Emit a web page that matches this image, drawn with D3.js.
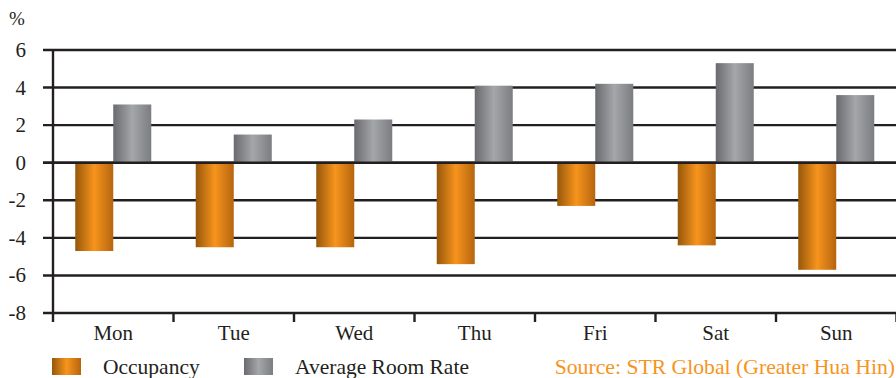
<!DOCTYPE html>
<html>
<head>
<meta charset="utf-8">
<script src="https://cdn.jsdelivr.net/npm/d3@7"></script>
<style>
  html, body { margin: 0; padding: 0; background: #fff; }
  svg { display: block; }
</style>
</head>
<body>
<svg id="chart" width="896" height="378"></svg>
<script>
// Year-on-year change by day of week, in percent
const days = ["Mon", "Tue", "Wed", "Thu", "Fri", "Sat", "Sun"];
const occupancy = [-4.7, -4.5, -4.5, -5.4, -2.3, -4.4, -5.7];
const roomRate = [3.1, 1.5, 2.3, 4.1, 4.2, 5.3, 3.6];
const yTicks = [6, 4, 2, 0, -2, -4, -6, -8];
const seriesNames = ["Occupancy", "Average Room Rate"];
const sourceNote = "Source: STR Global (Greater Hua Hin)";

const svg = d3.select("#chart");
const W = 896;
const ink = "#231f20";
const font = "'Liberation Serif', 'Times New Roman', serif";

const x = d3.scaleBand().domain(days).range([53, 896.5]).padding(0);
const xs = d3.scaleBand().domain(seriesNames).range([0, x.bandwidth()]).paddingInner(0).paddingOuter(0.585);
const y = d3.scaleLinear().domain([-8, 6]).range([313, 50]);

// Horizontal gradients for the bars
const defs = svg.append("defs");
function grad(id, stops) {
  const g = defs.append("linearGradient").attr("id", id)
    .attr("x1", "0%").attr("x2", "100%").attr("y1", "0%").attr("y2", "0%");
  stops.forEach(([o, c]) => g.append("stop").attr("offset", o).attr("stop-color", c));
}
grad("gOcc", [["0%", "#96570b"], ["50%", "#f7941d"], ["100%", "#b5650f"]]);
grad("gRate", [["0%", "#6a6b6e"], ["50%", "#a4a6a9"], ["100%", "#7b7d80"]]);
const fills = { "Occupancy": "url(#gOcc)", "Average Room Rate": "url(#gRate)" };

// Gridlines with left tick stubs
svg.append("g").selectAll("line").data(yTicks).join("line")
  .attr("x1", 43).attr("x2", W)
  .attr("y1", d => y(d)).attr("y2", d => y(d))
  .attr("stroke", ink).attr("stroke-width", 2.4);

// Y tick labels
svg.append("g").selectAll("text").data(yTicks).join("text")
  .attr("x", 26).attr("y", d => y(d) + 7)
  .attr("text-anchor", "end")
  .style("font-family", font).style("font-size", "21px").attr("fill", ink)
  .text(d => d);

svg.append("text")
  .attr("x", 9).attr("y", 25)
  .style("font-family", font).style("font-size", "19px").attr("fill", ink)
  .text("%");

// Bars
const rows = days.map((d, i) => ({ day: d, vals: [
  { s: seriesNames[0], v: occupancy[i] },
  { s: seriesNames[1], v: roomRate[i] }
]}));
const groups = svg.append("g").selectAll("g").data(rows).join("g")
  .attr("transform", d => `translate(${x(d.day)},0)`);
groups.selectAll("rect").data(d => d.vals).join("rect")
  .attr("x", d => xs(d.s))
  .attr("width", xs.bandwidth())
  .attr("y", d => y(Math.max(0, d.v)))
  .attr("height", d => Math.abs(y(d.v) - y(0)))
  .attr("fill", d => fills[d.s]);

// Zero line on top of bars
svg.append("line")
  .attr("x1", 43).attr("x2", W).attr("y1", y(0)).attr("y2", y(0))
  .attr("stroke", ink).attr("stroke-width", 2.4);

// Y axis line
svg.append("line")
  .attr("x1", 53).attr("x2", 53).attr("y1", y(6)).attr("y2", 322)
  .attr("stroke", ink).attr("stroke-width", 2.4);

// X axis with category boundary ticks
const xAxis = d3.axisBottom(x).tickSize(0).tickPadding(0);
const xg = svg.append("g").attr("transform", `translate(0,${y(-8)})`).call(xAxis);
xg.select(".domain").remove();
xg.selectAll("text")
  .attr("dy", 0).attr("y", 27)
  .style("font-family", font).style("font-size", "21px").attr("fill", ink);
const bounds = days.map(d => x(d) + x.bandwidth());
svg.append("g").selectAll("line").data(bounds).join("line")
  .attr("x1", d => d).attr("x2", d => d)
  .attr("y1", y(-8)).attr("y2", 322)
  .attr("stroke", ink).attr("stroke-width", 2.4);

// Legend
const legendX = [52, 244];
seriesNames.forEach((s, i) => {
  svg.append("rect")
    .attr("x", legendX[i]).attr("y", 358).attr("width", 29).attr("height", 17)
    .attr("fill", fills[s]);
  svg.append("text")
    .attr("x", legendX[i] + 51).attr("y", 374)
    .style("font-family", font).style("font-size", "21.5px").attr("fill", ink)
    .text(s);
});

svg.append("text")
  .attr("x", 895).attr("y", 374).attr("text-anchor", "end")
  .style("font-family", font).style("font-size", "21.7px").attr("fill", "#f7941d")
  .text(sourceNote);
</script>
</body>
</html>
